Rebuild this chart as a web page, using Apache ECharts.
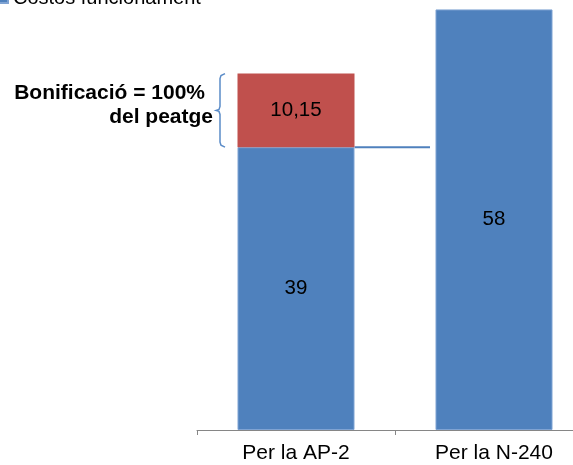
<!DOCTYPE html>
<html>
<head>
<meta charset="utf-8">
<script src="https://cdn.jsdelivr.net/npm/echarts@6/dist/echarts.min.js"></script>
<style>
    html, body { margin: 0; padding: 0; background: #fff; }
    #chart { width: 573px; height: 465px; }
</style>
</head>
<body>
<div id="chart"></div>
<script>
    var categories = ['Per la AP-2', 'Per la N-240'];
    var costos = [39, 58];
    var bonificacio = [10.15, null];
    var legendNames = ['Costos funcionament'];
    var notaLinies = ['Bonificació = 100%', 'del peatge'];

    var blau = '#4F81BD';
    var vermell = '#C0504D';
    var font = '"Liberation Sans", Arial, sans-serif';

    function coma(params) {
        return String(params.value).replace('.', ',');
    }

    var chart = echarts.init(document.getElementById('chart'));
    var option = {
        animation: false,
        grid: {
            left: 197,
            top: 0,
            right: -20,
            bottom: 35,
            outerBoundsMode: 'none',
            containLabel: false
        },
        legend: {
            data: legendNames,
            left: -8,
            top: -17,
            itemWidth: 10,
            itemHeight: 10,
            itemGap: 5,
            icon: 'rect',
            textStyle: { fontSize: 20, color: '#000', fontFamily: font }
        },
        xAxis: {
            type: 'category',
            data: categories,
            axisLine: { lineStyle: { color: '#868686', width: 1 } },
            axisTick: { show: true, length: 5, lineStyle: { color: '#868686' } },
            axisLabel: { fontSize: 21, color: '#000', margin: 13, fontFamily: font }
        },
        yAxis: {
            type: 'value',
            min: 0,
            max: 59.3,
            show: false,
            splitLine: { show: false }
        },
        series: [{
            name: 'Costos funcionament',
            type: 'bar',
            stack: 'total',
            barWidth: 117,
            data: costos,
            itemStyle: { color: blau, borderColor: '#7FA3D3', borderWidth: 1 },
            label: {
                show: true,
                position: 'inside',
                fontSize: 20.5,
                color: '#000',
                fontFamily: font,
                formatter: coma
            }
        }, {
            name: 'Bonificació',
            type: 'bar',
            stack: 'total',
            barWidth: 117,
            data: bonificacio,
            itemStyle: { color: vermell },
            label: {
                show: true,
                position: 'inside',
                fontSize: 20.5,
                color: '#000',
                fontFamily: font,
                formatter: coma
            }
        }]
    };
    chart.setOption(option);

    // línia i clau de la bonificació
    var baix = chart.convertToPixel({ seriesIndex: 0 }, [0, costos[0]]);
    var dalt = chart.convertToPixel({ seriesIndex: 0 }, [0, costos[0] + bonificacio[0]]);
    var dreta = chart.convertToPixel({ seriesIndex: 0 }, [1, costos[1]]);
    var y0 = dalt[1], y1 = baix[1], ym = (y0 + y1) / 2;
    var bx = 220;

    chart.setOption({
        graphic: [{
            type: 'line',
            shape: { x1: baix[0] + 58.5, y1: y1, x2: dreta[0] - 64, y2: y1 },
            style: { stroke: blau, lineWidth: 2 }
        }, {
            type: 'polyline',
            shape: {
                points: [
                    [bx + 5, y0], [bx + 1, y0 + 2], [bx, y0 + 5],
                    [bx, ym - 4], [bx - 1, ym - 1], [bx - 4, ym],
                    [bx - 1, ym + 1], [bx, ym + 4],
                    [bx, y1 - 5], [bx + 1, y1 - 2], [bx + 5, y1]
                ]
            },
            style: { fill: null, stroke: '#5B8CC8', lineWidth: 1.5 }
        }, {
            type: 'text',
            x: 205,
            y: ym - 17,
            style: {
                text: notaLinies[0],
                align: 'right',
                verticalAlign: 'middle',
                font: 'bold 21px ' + font,
                fill: '#000'
            }
        }, {
            type: 'text',
            x: 213,
            y: ym + 7,
            style: {
                text: notaLinies[1],
                align: 'right',
                verticalAlign: 'middle',
                font: 'bold 21px ' + font,
                fill: '#000'
            }
        }]
    });
</script>
</body>
</html>
